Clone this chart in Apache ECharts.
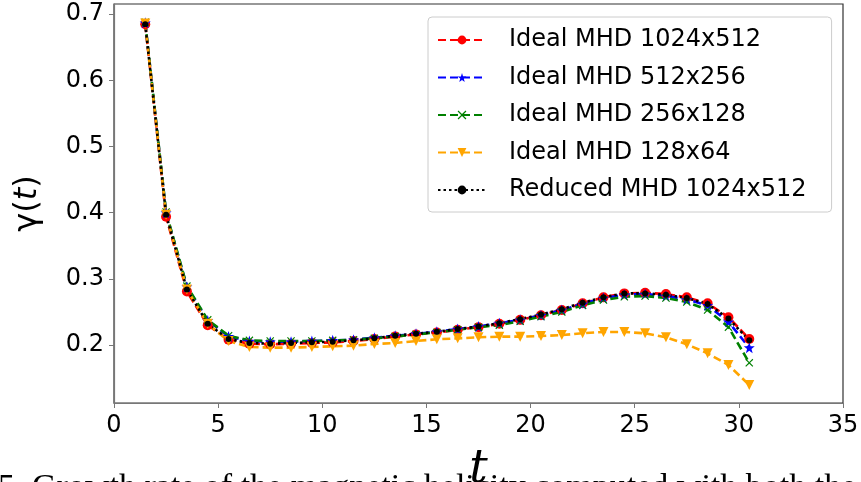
<!DOCTYPE html>
<html>
<head>
<meta charset="utf-8">
<script src="https://cdn.jsdelivr.net/npm/echarts@6/dist/echarts.min.js"></script>
<style>
  html, body { margin: 0; padding: 0; background: #fff; }
  #chart { width: 861px; height: 482px; }
</style>
</head>
<body>
<div id="chart"></div>
<script>
// time samples
const tValues = [1.5, 2.5, 3.5, 4.5, 5.5, 6.5, 7.5, 8.5, 9.5, 10.5,
  11.5, 12.5, 13.5, 14.5, 15.5, 16.5, 17.5, 18.5, 19.5, 20.5,
  21.5, 22.5, 23.5, 24.5, 25.5, 26.5, 27.5, 28.5, 29.5, 30.5]

// growth rate, one array per run
const ideal1024 = [0.685, 0.394, 0.281, 0.230, 0.208, 0.202, 0.201, 0.202, 0.203, 0.204,
  0.206, 0.209, 0.213, 0.216, 0.219, 0.223, 0.227, 0.232, 0.238, 0.245,
  0.253, 0.263, 0.272, 0.278, 0.279, 0.277, 0.272, 0.263, 0.242, 0.209]
const ideal512 = [0.687, 0.400, 0.288, 0.237, 0.213, 0.206, 0.205, 0.205, 0.206, 0.207,
  0.208, 0.211, 0.214, 0.217, 0.220, 0.224, 0.228, 0.233, 0.238, 0.245,
  0.253, 0.262, 0.271, 0.276, 0.277, 0.274, 0.269, 0.260, 0.235, 0.196]
const ideal256 = [0.688, 0.401, 0.289, 0.238, 0.214, 0.207, 0.206, 0.206, 0.206, 0.207,
  0.208, 0.210, 0.213, 0.216, 0.219, 0.223, 0.227, 0.230, 0.236, 0.243,
  0.250, 0.260, 0.268, 0.273, 0.274, 0.271, 0.265, 0.253, 0.227, 0.173]
const ideal128 = [0.686, 0.397, 0.284, 0.232, 0.206, 0.197, 0.196, 0.196, 0.197, 0.198,
  0.199, 0.2015, 0.203, 0.206, 0.2086, 0.210, 0.2116, 0.2126, 0.2126, 0.2136,
  0.215, 0.2177, 0.2197, 0.2197, 0.2177, 0.2116, 0.201, 0.1874, 0.1698, 0.1395]
const reduced1024 = [0.685, 0.397, 0.284, 0.232, 0.209, 0.203, 0.202, 0.203, 0.204, 0.205,
  0.207, 0.210, 0.214, 0.217, 0.220, 0.224, 0.228, 0.233, 0.239, 0.246,
  0.254, 0.264, 0.272, 0.278, 0.278, 0.276, 0.271, 0.262, 0.240, 0.207]

const seriesNames = ['Ideal MHD 1024x512', 'Ideal MHD 512x256', 'Ideal MHD 256x128',
  'Ideal MHD 128x64', 'Reduced MHD 1024x512']

const xTicks = [0, 5, 10, 15, 20, 25, 30, 35]
const yTicks = [0.2, 0.3, 0.4, 0.5, 0.6, 0.7]

// marker shapes
const STAR = 'path://M0,-10 L2.35,-3.24 L9.51,-3.09 L3.8,1.24 L5.88,8.09 L0,4 L-5.88,8.09 L-3.8,1.24 L-9.51,-3.09 L-2.35,-3.24 Z'
const CROSS = 'path://M1,0 L5,4 L9,0 L10,1 L6,5 L10,9 L9,10 L5,6 L1,10 L0,9 L4,5 L0,1 Z'

const chart = echarts.init(document.getElementById('chart'))

const makeSeries = (name, values, color, symbol, size, dash, extra) => Object.assign({
  name: name,
  type: 'line',
  data: values.map((v, i) => [tValues[i], v]),
  symbol: symbol,
  symbolSize: size,
  showSymbol: true,
  color: color,
  itemStyle: { color: color },
  lineStyle: { color: color, width: 2.6, type: dash },
  emphasis: { disabled: true }
}, extra || {})

const axisLine = { show: true, lineStyle: { color: '#777', width: 1.2 } }

const option = {
  animation: false,
  textStyle: { fontFamily: 'DejaVu Sans' },
  grid: {
    left: 114, right: 18, top: 4, bottom: 79,
    outerBoundsMode: 'none', containLabel: false,
    show: true, borderColor: '#333', borderWidth: 1.2
  },
  xAxis: {
    type: 'value',
    min: 0, max: 35, interval: 5,
    name: 't',
    nameLocation: 'middle',
    nameGap: 44,
    nameTextStyle: { fontFamily: 'DejaVu Serif', fontStyle: 'italic', fontSize: 46, color: '#000', verticalAlign: 'top' },
    axisLine: axisLine,
    axisTick: { show: true, length: 5, lineStyle: { color: '#777' } },
    axisLabel: { fontSize: 24, color: '#000', margin: 11, formatter: v => xTicks.includes(v) ? String(v) : '' },
    splitLine: { show: false }
  },
  yAxis: {
    type: 'value',
    min: 0.1123, max: 0.7155,
    name: '{n|γ(}{i|t}{n|)}',
    nameLocation: 'middle',
    nameRotate: 90,
    nameGap: 70,
    nameTextStyle: {
      rich: {
        n: { fontSize: 32, fontFamily: 'DejaVu Sans', color: '#000' },
        i: { fontSize: 32, fontFamily: 'DejaVu Sans', fontStyle: 'italic', color: '#000' }
      }
    },
    axisLine: axisLine,
    axisTick: { show: true, length: 5, customValues: yTicks, lineStyle: { color: '#777' } },
    axisLabel: { fontSize: 24, color: '#000', margin: 10, customValues: yTicks, formatter: v => v.toFixed(1) },
    splitLine: { show: false }
  },
  legend: {
    orient: 'vertical',
    left: 428, top: 17,
    padding: [9, 25, 8, 9],
    itemWidth: 48, itemHeight: 11,
    itemGap: 9.5,
    borderColor: '#ccc', borderWidth: 1, borderRadius: 4,
    backgroundColor: 'rgba(255,255,255,0.8)',
    textStyle: { fontSize: 24, color: '#000', lineHeight: 28, padding: [0, 0, 0, 18] },
    data: seriesNames
  },
  graphic: [{
    type: 'text',
    left: -2, top: 471,
    style: {
      text: '5. Growth rate of the magnetic helicity computed with both the',
      font: '34px "Liberation Serif"',
      fill: '#000'
    }
  }],
  series: [
    makeSeries(seriesNames[0], ideal1024, '#ff0000', 'circle', 10, [8, 4]),
    makeSeries(seriesNames[1], ideal512, '#0000ff', STAR, 11, [8, 4]),
    makeSeries(seriesNames[2], ideal256, '#008000', CROSS, 8, [8, 4]),
    makeSeries(seriesNames[3], ideal128, '#ffa500', 'triangle', 10, [8, 4], { symbolRotate: 180 }),
    makeSeries(seriesNames[4], reduced1024, '#000000', 'circle', 6, [2.5, 3])
  ]
}

chart.setOption(option)
</script>
</body>
</html>
